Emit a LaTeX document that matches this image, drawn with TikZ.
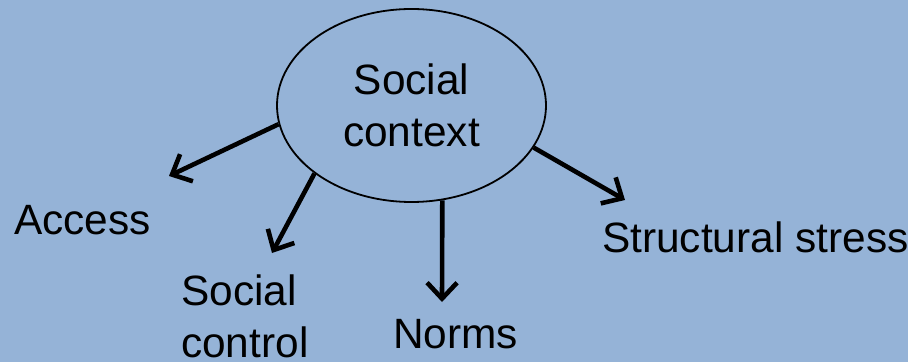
\documentclass[tikz,border=0pt]{standalone}
\usepackage{fontspec}
\setmainfont{Liberation Sans}
\usetikzlibrary{shapes.geometric,arrows.meta}
\definecolor{bgblue}{HTML}{95B3D7}
\begin{document}
\begin{tikzpicture}[x=1pt,y=1pt,
  lbl/.style={font=\fontsize{42.4}{52}\selectfont, inner sep=0pt, align=left},
  conn/.style={line width=4.6pt, -{Straight Barb[length=16pt,width=30pt]}},
  ctxnode/.style={ellipse, draw=black, line width=1.8pt, fill=bgblue,
    minimum width=269pt, minimum height=193pt, inner sep=0pt,
    font=\fontsize{42.4}{52}\selectfont, align=center}]
\fill[bgblue] (0,0) rectangle (908,362);
\useasboundingbox (0,0) rectangle (908,362);
\node[ctxnode] (ctx) at (411.5,256.5) {Social\\context};
\coordinate (eA) at (169,186);
\coordinate (eC) at (272,109);
\coordinate (eN) at (442,60);
\coordinate (eS) at (625,162);
\draw[conn] (ctx.188) -- (eA);
\draw[conn] (ctx.215) -- (eC);
\draw[conn] (ctx.288) -- (eN);
\draw[conn] (ctx.341.6) -- (eS);
\node[lbl, anchor=base west] (access) at (14,128) {Access};
\node[lbl, anchor=base west] (struct) at (602,110) {Structural stress};
\node[lbl, anchor=base west] (norms) at (393,14) {Norms};
\node[lbl, anchor=base west] (control) at (181,5) {Social\\control};
\end{tikzpicture}
\end{document}
